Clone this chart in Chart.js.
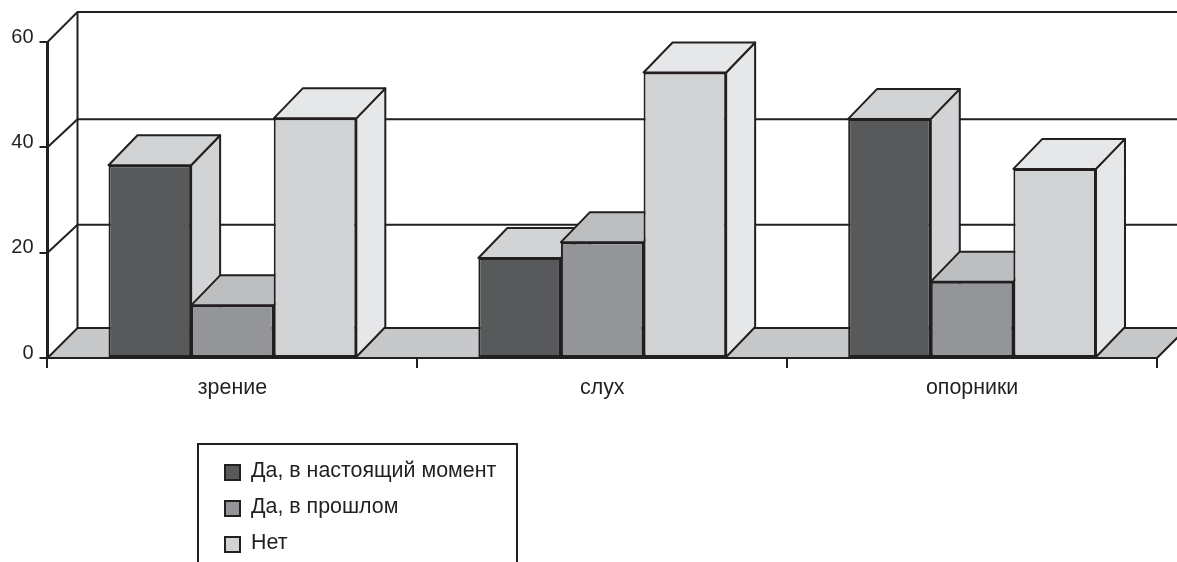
<!DOCTYPE html>
<html lang="ru">
<head>
<meta charset="utf-8">
<title>Chart</title>
<script src="https://cdn.jsdelivr.net/npm/chart.js@4/dist/chart.umd.min.js"></script>
<style>
  html, body { margin: 0; padding: 0; background: #fff; overflow: hidden; }
  canvas { display: block; }
</style>
</head>
<body>
<canvas id="chart" width="1177" height="562"></canvas>
<script>
const categories = ['зрение', 'слух', 'опорники'];
const seriesNames = ['Да, в настоящий момент', 'Да, в прошлом', 'Нет'];
const nowValues = [36.6, 19, 45.4];
const pastValues = [10, 22, 14.5];
const noValues = [45.5, 54.2, 35.9];
const yTicks = [0, 20, 40, 60];

const INK = '#231f20';
const frontColors = ['#58595b', '#939598', '#d1d3d4'];
const topColors = ['#d1d3d4', '#bcbec0', '#e6e7e8'];
const sideColors = ['#d1d3d4', '#bcbec0', '#e6e7e8'];
const FLOOR = '#c7c8ca';
const FONT = '"Liberation Sans", Arial, sans-serif';

// depth of the fake 3D box
const DX = 29, DY = 30;

function poly(ctx, pts, fill) {
  ctx.beginPath();
  pts.forEach((p, i) => i ? ctx.lineTo(p[0], p[1]) : ctx.moveTo(p[0], p[1]));
  ctx.closePath();
  if (fill) { ctx.fillStyle = fill; ctx.fill(); }
  ctx.stroke();
}

function drawBoxFaces(ctx, meta) {
  ctx.save();
  ctx.strokeStyle = INK;
  ctx.lineWidth = 2;
  ctx.lineJoin = 'round';
  meta.data.forEach(bar => {
    const l = bar.x - bar.width / 2, r = bar.x + bar.width / 2;
    poly(ctx, [[r, bar.y], [r + DX, bar.y - DY], [r + DX, bar.base - DY], [r, bar.base]], sideColors[meta.index]);
    poly(ctx, [[l, bar.y], [l + DX, bar.y - DY], [r + DX, bar.y - DY], [r, bar.y]], topColors[meta.index]);
  });
  ctx.restore();
}

const wallPlugin = {
  id: 'wall',
  // back wall, floor and the slanted grid lines
  beforeDatasetsDraw(chart) {
    const { ctx, chartArea: a, scales: { y } } = chart;
    ctx.save();
    ctx.strokeStyle = INK;
    ctx.lineWidth = 2;
    const b = y.getPixelForValue(0);
    poly(ctx, [[a.left, b], [a.left + 30, b - 30], [a.right + 30, b - 30], [a.right, b]], FLOOR);
    yTicks.slice(1).forEach(v => {
      const py = y.getPixelForValue(v);
      const lift = v === 60 ? 30 : 28;
      ctx.beginPath();
      ctx.moveTo(a.left, py);
      ctx.lineTo(a.left + 30, py - lift);
      ctx.lineTo(a.right + 30, py - lift);
      ctx.stroke();
    });
    ctx.beginPath();
    ctx.moveTo(a.left + 30, y.getPixelForValue(60) - 30);
    ctx.lineTo(a.left + 30, b - 30);
    ctx.stroke();
    ctx.restore();
  },
  // chart.js paints the last dataset first; the boxes need left to right
  beforeDatasetDraw() {
    return false;
  },
  afterDatasetsDraw(chart) {
    chart.getSortedVisibleDatasetMetas().forEach(meta => {
      drawBoxFaces(chart.ctx, meta);
      meta.controller.draw();
    });
  },
  // legend box runs off the bottom of the page
  afterDraw(chart) {
    const { ctx, height } = chart;
    ctx.save();
    ctx.strokeStyle = INK;
    ctx.lineWidth = 2;
    ctx.beginPath();
    ctx.moveTo(198, height);
    ctx.lineTo(198, 444);
    ctx.lineTo(517, 444);
    ctx.lineTo(517, height);
    ctx.stroke();
    ctx.font = '21.4px ' + FONT;
    ctx.textBaseline = 'middle';
    ctx.textAlign = 'left';
    chart.data.datasets.forEach((ds, i) => {
      const top = 464 + i * 36;
      ctx.fillStyle = frontColors[i];
      ctx.fillRect(225, top + 1, 15, 15);
      ctx.strokeRect(225, top + 1, 15, 15);
      ctx.fillStyle = INK;
      ctx.fillText(ds.label, 251, top + 7);
    });
    ctx.restore();
  }
};

const values = [nowValues, pastValues, noValues];

new Chart(document.getElementById('chart'), {
  type: 'bar',
  data: {
    labels: categories,
    datasets: seriesNames.map((name, i) => ({
      label: name,
      data: values[i],
      backgroundColor: frontColors[i],
      borderColor: INK,
      borderWidth: 2,
      borderSkipped: false
    }))
  },
  options: {
    responsive: false,
    animation: false,
    layout: { padding: { top: 42, right: 20, left: 0, bottom: 0 } },
    datasets: { bar: { categoryPercentage: 0.67, barPercentage: 1 } },
    plugins: { legend: { display: false }, tooltip: { enabled: false } },
    scales: {
      x: {
        afterFit: s => { s.height = 204; },
        border: { color: INK, width: 2 },
        grid: { offset: true, drawOnChartArea: false, color: INK, lineWidth: 2, tickLength: 10 },
        ticks: { color: INK, padding: 7, maxRotation: 0, font: { family: FONT, size: 21.4 } }
      },
      y: {
        min: 0,
        max: 60,
        afterFit: s => { s.width = 47.5; },
        afterBuildTicks: s => { s.ticks = yTicks.map(v => ({ value: v })); },
        border: { color: INK, width: 3 },
        grid: { drawOnChartArea: false, color: INK, lineWidth: 2, tickLength: 8 },
        ticks: { color: INK, padding: 6, labelOffset: -5, font: { family: FONT, size: 20 } }
      }
    }
  },
  plugins: [wallPlugin]
});
</script>
</body>
</html>
